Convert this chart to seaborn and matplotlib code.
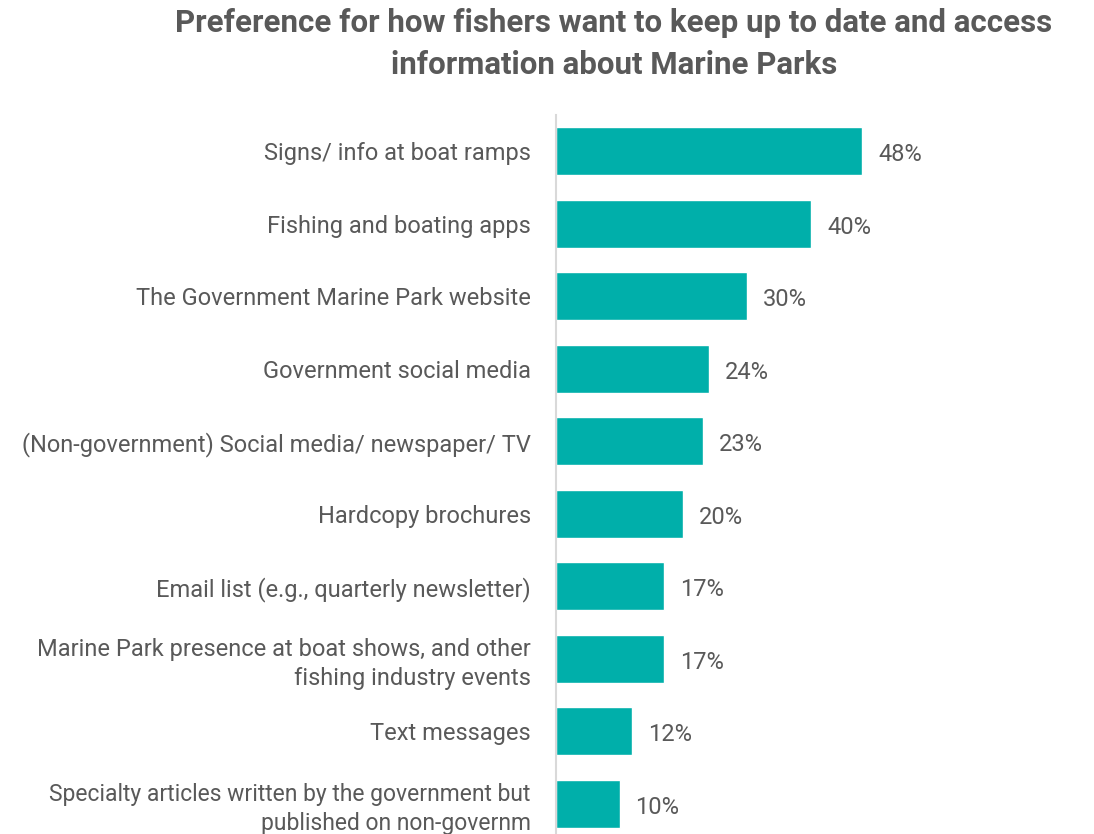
import matplotlib
matplotlib.use("Agg")
import matplotlib.pyplot as plt
import seaborn as sns
import pandas as pd

categories = [
    "Signs/ info at boat ramps",
    "Fishing and boating apps",
    "The Government Marine Park website",
    "Government social media",
    "(Non-government) Social media/ newspaper/ TV",
    "Hardcopy brochures",
    "Email list (e.g., quarterly newsletter)",
    "Marine Park presence at boat shows, and other\nfishing industry events",
    "Text messages",
    "Specialty articles written by the government but\npublished on non-governm",
]
values = [48, 40, 30, 24, 23, 20, 17, 17, 12, 10]
title = "Preference for how fishers want to keep up to date and access\ninformation about Marine Parks"

sns.set_theme(style="white")
plt.rcParams['font.family'] = ['Roboto', 'DejaVu Sans']

df = pd.DataFrame({"cat": categories, "val": values})
fig = plt.figure(figsize=(10.94, 8.34), dpi=100)
ax = fig.add_axes([0.508, -0.0072, 0.35, 0.8692])
sns.barplot(data=df, x="val", y="cat", orient="h", color="#00AFAA",
            saturation=1, width=0.66, ax=ax)
ax.set_xlim(0, 60)
ax.set_xlabel("")
ax.set_ylabel("")
ax.set_xticks([])
for s in ["top", "right", "bottom"]:
    ax.spines[s].set_visible(False)
ax.spines["left"].set_color("#D9D9D9")
ax.spines["left"].set_linewidth(1.5)
ax.tick_params(axis="y", length=0, pad=18, labelsize=17, labelcolor="#595959")
for lab in ax.get_yticklabels():
    lab.set_linespacing(1.3)
ax.get_yticklabels()[-1].set_fontsize(16.5)
for i, v in enumerate(values):
    ax.text(v + 2.5, i + 0.05, f"{v}%", va="center", ha="left", fontsize=17,
            color="#595959")
fig.text(0.561, 0.947, title, ha="center", va="center", fontsize=22.5,
         fontweight="bold", color="#595959", linespacing=1.5)
fig.savefig("out.png", dpi=100)
